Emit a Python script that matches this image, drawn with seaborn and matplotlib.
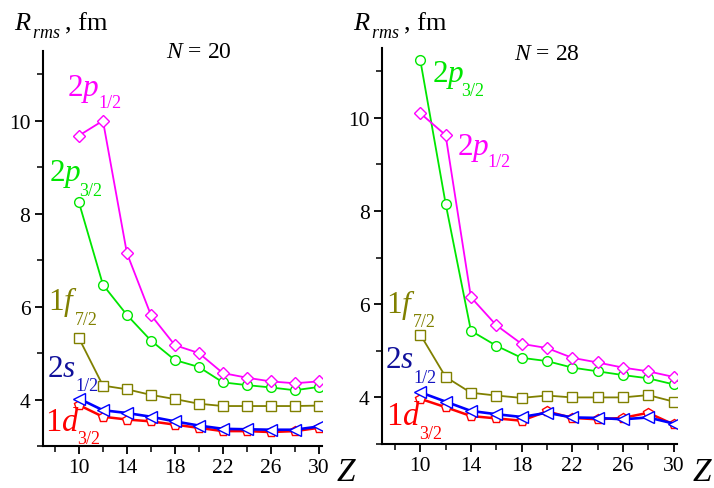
import matplotlib
matplotlib.use("Agg")
import matplotlib.pyplot as plt
from matplotlib.ticker import MultipleLocator
import seaborn as sns

# ---------------- data ----------------
Z = [10, 12, 14, 16, 18, 20, 22, 24, 26, 28, 30]

# N = 20
p12_20 = [9.68, 10.0, 7.15, 5.82, 5.17, 5.00, 4.57, 4.47, 4.39, 4.35, 4.39]
p32_20 = [8.24, 6.47, 5.82, 5.27, 4.85, 4.70, 4.37, 4.31, 4.26, 4.20, 4.27]
f72_20 = [5.32, 4.30, 4.22, 4.10, 4.01, 3.91, 3.86, 3.86, 3.86, 3.86, 3.87]
s12_20 = [4.02, 3.77, 3.71, 3.63, 3.53, 3.44, 3.37, 3.36, 3.35, 3.35, 3.42]
d32_20 = [3.88, 3.63, 3.57, 3.53, 3.46, 3.39, 3.32, 3.32, 3.30, 3.32, 3.39]

# N = 28
p32_28 = [11.24, 8.16, 5.43, 5.11, 4.85, 4.78, 4.64, 4.56, 4.48, 4.41, 4.28]
p12_28 = [10.10, 9.63, 6.15, 5.55, 5.15, 5.06, 4.85, 4.75, 4.64, 4.56, 4.44]
f72_28 = [5.35, 4.44, 4.10, 4.04, 3.99, 4.04, 4.00, 4.00, 4.00, 4.05, 3.91]
s12_28 = [4.11, 3.91, 3.71, 3.64, 3.58, 3.67, 3.57, 3.56, 3.53, 3.57, 3.44]
d32_28 = [3.97, 3.79, 3.60, 3.55, 3.50, 3.70, 3.56, 3.53, 3.56, 3.67, 3.42]

panel_titles = ["20", "28"]

# ---------------- style ----------------
sns.set_style("ticks")
plt.rcParams["font.family"] = ["Liberation Serif", "DejaVu Serif"]
plt.rcParams["mathtext.fontset"] = "custom"
plt.rcParams["mathtext.rm"] = "Liberation Serif"
plt.rcParams["mathtext.it"] = "Liberation Serif:italic"
plt.rcParams["mathtext.bf"] = "Liberation Serif:bold"

W, H = 714, 489
fig = plt.figure(figsize=(W / 100, H / 100), dpi=100)

MAG = "#FF00FF"
GRN = "#00E600"
OLV = "#808000"
BLU = "#0000FF"
RED = "#FF0000"

ax1 = fig.add_axes([43 / W, (H - 447) / H, (321.7 - 43) / W, (447 - 52) / H])
ax2 = fig.add_axes([382.3 / W, (H - 445) / H, (676.7 - 382.3) / W, (445 - 49) / H])


def series(ax, y, color, marker, ms, lw=1.3, mew=1.0):
    sns.lineplot(x=Z, y=y, ax=ax, color=color, marker=marker, markersize=ms,
                 markerfacecolor="white", markeredgecolor=color,
                 markeredgewidth=mew, linewidth=lw)


# left panel (N=20)
series(ax1, p32_20, GRN, "o", 7)
series(ax1, p12_20, MAG, "D", 6.5)
series(ax1, f72_20, OLV, "s", 6.5)
series(ax1, d32_20, RED, "p", 7.5, lw=1.8)
series(ax1, s12_20, BLU, "<", 8, lw=1.9)

# right panel (N=28)
series(ax2, p32_28, GRN, "o", 7)
series(ax2, p12_28, MAG, "D", 6.5)
series(ax2, f72_28, OLV, "s", 6.5)
series(ax2, d32_28, RED, "p", 7.5, lw=1.8)
series(ax2, s12_28, BLU, "<", 8, lw=1.9)

for ax in (ax1, ax2):
    ax.set_xlim(7, 30.25)
    ax.set_ylim(3, 11.5)
    ax.xaxis.set_major_locator(MultipleLocator(4))
    ax.xaxis.set_minor_locator(MultipleLocator(2))
    ax.set_xticks([10, 14, 18, 22, 26, 30])
    ax.yaxis.set_major_locator(MultipleLocator(2))
    ax.yaxis.set_minor_locator(MultipleLocator(1))
    ax.set_yticks([4, 6, 8, 10])
    ax.tick_params(axis="both", which="major", direction="out", length=6,
                   width=1.3, labelsize=15.5, pad=3, colors="black")
    ax.tick_params(axis="both", which="minor", direction="out", length=4,
                   width=1.3)
    for s in ("left", "bottom"):
        ax.spines[s].set_linewidth(1.5)
        ax.spines[s].set_color("black")
    sns.despine(ax=ax)
    ax.set_xlabel("")
    ax.set_ylabel("")


def T(px, py, s, size, color="black", **kw):
    fig.text(px / W, 1 - py / H, s, fontsize=size, color=color,
             ha="left", va="baseline", **kw)


BIG = 22.5
SUB = 13

# left labels
T(67, 96, r"$2p$", BIG, MAG); T(98, 108, "1/2", SUB, MAG)
T(49, 181, r"$2p$", BIG, GRN); T(79, 196, "3/2", SUB, GRN)
T(48, 310, r"$1f$", BIG, OLV); T(75, 325, "7/2", SUB, OLV)
T(47, 377, r"$2s$", BIG, "#10109A"); T(75, 391, "1/2", SUB, "#1515C0")
T(45, 431, r"$1d$", BIG + 1, RED); T(77, 444, "3/2", SUB, RED)

# right labels
T(432, 82, r"$2p$", BIG, GRN); T(461, 96, "3/2", SUB, GRN)
T(457, 155, r"$2p$", BIG, MAG); T(487, 167, "1/2", SUB, MAG)
T(386, 313, r"$1f$", BIG, OLV); T(413, 327, "7/2", SUB, OLV)
T(385, 368, r"$2s$", BIG, "#10109A"); T(413, 383, "1/2", SUB, "#1515C0")
T(386, 425, r"$1d$", BIG + 1, RED); T(419, 439, "3/2", SUB, RED)

# axis titles
for dx in (0, 339):
    T(14 + dx, 30, r"$R$", 19)
    T(32 + dx, 38, r"$rms$", 13)
    T(65 + dx, 30, ", fm", 19)
T(166, 58, r"$N$ = " + panel_titles[0], 17)
T(514, 60, r"$N$ = " + panel_titles[1], 17)
T(336, 481, r"$Z$", 24)
T(692, 481, r"$Z$", 24)

fig.savefig("out.png", dpi=100)
